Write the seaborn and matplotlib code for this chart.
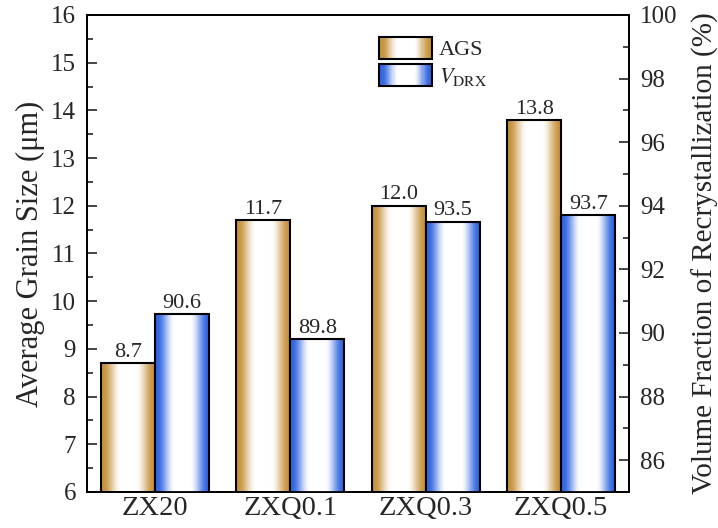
import numpy as np
import pandas as pd
import matplotlib
matplotlib.use("Agg")
import matplotlib.pyplot as plt
import seaborn as sns
from matplotlib.patches import Rectangle
from matplotlib.legend_handler import HandlerPatch
from matplotlib.ticker import MultipleLocator

# Data
samples = ["ZX20", "ZXQ0.1", "ZXQ0.3", "ZXQ0.5"]
ags = [8.7, 11.7, 12.0, 13.8]          # average grain size (um)
vdrx = [90.6, 89.8, 93.5, 93.7]        # DRX volume fraction (%)
series = ["AGS", "VDRX"]
legend_labels = ["AGS", r"$V_{\mathrm{DRX}}$"]

gold = np.array([198, 146, 60]) / 255
blue = np.array([50, 102, 224]) / 255

sns.set_style("ticks")
plt.rcParams["font.family"] = ["Liberation Serif", "DejaVu Serif"]
plt.rcParams["mathtext.fontset"] = "stix"

fig = plt.figure(figsize=(7.18, 5.28), dpi=100)
ax = fig.add_axes([0.1212, 0.0682, 0.7548, 0.9034])
ax2 = ax.twinx()

# Each axis carries one series; the other hue level is kept at zero so the
# dodged slots line up, and it falls outside the visible range.
zeros = [0.0] * len(samples)
df_left = pd.DataFrame({"sample": samples * 2, "value": ags + zeros,
                        "series": ["AGS"] * 4 + ["VDRX"] * 4})
df_right = pd.DataFrame({"sample": samples * 2, "value": zeros + vdrx,
                         "series": ["AGS"] * 4 + ["VDRX"] * 4})

kw = dict(x="sample", y="value", hue="series", hue_order=series, order=samples,
          dodge=True, width=0.8, legend=False, palette=[tuple(gold), tuple(blue)],
          edgecolor="black", linewidth=1.5)
sns.barplot(data=df_left, ax=ax, **kw)
sns.barplot(data=df_right, ax=ax2, **kw)

ax.set_xlim(-0.5, 3.5)
ax.set_ylim(6, 16)
ax2.set_ylim(85, 100)


def gradient_row(color, n=256):
    # colour at both edges, fading to a white band in the middle
    t = np.linspace(0, 1, n)
    d = np.abs(2 * t - 1)                  # 0 at centre, 1 at edges
    s = np.clip((0.94 - d) / (0.94 - 0.28), 0, 1)
    f = s * s * (3 - 2 * s)
    rgb = color[None, :] + (1 - color[None, :]) * f[:, None]
    return rgb[None, :, :]


def fill_gradient(axis, container, color):
    lo, hi = axis.get_ylim()
    for p in container.patches:
        h = p.get_height()
        if h == 0:
            continue
        x0, w = p.get_x(), p.get_width()
        y0 = max(p.get_y(), lo)
        y1 = min(p.get_y() + h, hi)
        axis.imshow(gradient_row(color), extent=[x0, x0 + w, y0, y1],
                    aspect="auto", interpolation="bilinear", zorder=p.get_zorder())
        p.set_facecolor("none")
        p.set_zorder(p.get_zorder() + 0.1)
    axis.set_xlim(-0.5, 3.5)
    axis.set_ylim(lo, hi)


fill_gradient(ax, ax.containers[0], gold)
fill_gradient(ax2, ax2.containers[1], blue)

ax.bar_label(ax.containers[0], fmt="%.1f", padding=1, fontsize=16)
ax2.bar_label(ax2.containers[1], fmt="%.1f", padding=1, fontsize=16)

ax.set_xlabel("")
ax.set_ylabel("Average Grain Size (μm)", fontsize=22, labelpad=4)
ax2.set_ylabel("Volume Fraction of Recrystallization (%)", fontsize=21, labelpad=10)

ax.yaxis.set_major_locator(MultipleLocator(1))
ax.yaxis.set_minor_locator(MultipleLocator(0.5))
ax2.set_yticks(np.arange(86, 101, 2))
ax2.yaxis.set_minor_locator(MultipleLocator(1))
ax2.set_ylim(85, 100)

ax.tick_params(axis="y", which="major", direction="in", length=7, width=1.2, labelsize=18, pad=8)
ax.tick_params(axis="y", which="minor", direction="in", length=4, width=1.2)
ax.tick_params(axis="x", length=0, labelsize=20.5, pad=3)
ax2.tick_params(axis="y", which="major", direction="in", length=7, width=1.2, labelsize=18, pad=8)
ax2.tick_params(axis="y", which="minor", direction="in", length=4, width=1.2)

for axis in (ax, ax2):
    for s in axis.spines.values():
        s.set_visible(True)
        s.set_linewidth(1.3)
        s.set_color("black")
ax2.patch.set_visible(False)


class GradientHandler(HandlerPatch):
    def __init__(self, color, **kw):
        super().__init__(**kw)
        self.color = color

    def create_artists(self, legend, orig_handle, xdescent, ydescent, width, height, fontsize, trans):
        n = 48
        row = gradient_row(self.color, n)[0]
        artists = []
        for i in range(n):
            r = Rectangle((-xdescent + width * i / n, -ydescent), width / n * 1.08, height,
                          facecolor=row[i], edgecolor="none", transform=trans)
            artists.append(r)
        border = Rectangle((-xdescent, -ydescent), width, height, facecolor="none",
                           edgecolor="black", linewidth=1.5, transform=trans)
        artists.append(border)
        return artists


h1 = Rectangle((0, 0), 1, 1)
h2 = Rectangle((0, 0), 1, 1)
ax2.legend([h1, h2], legend_labels, loc="upper left", bbox_to_anchor=(0.539, 0.954),
           frameon=False, fontsize=16, handlelength=2.4, handleheight=1.12,
           handletextpad=0.3, labelspacing=0.18, borderaxespad=0, borderpad=0,
           handler_map={h1: GradientHandler(gold), h2: GradientHandler(blue)})

fig.savefig("out.png", dpi=100)
